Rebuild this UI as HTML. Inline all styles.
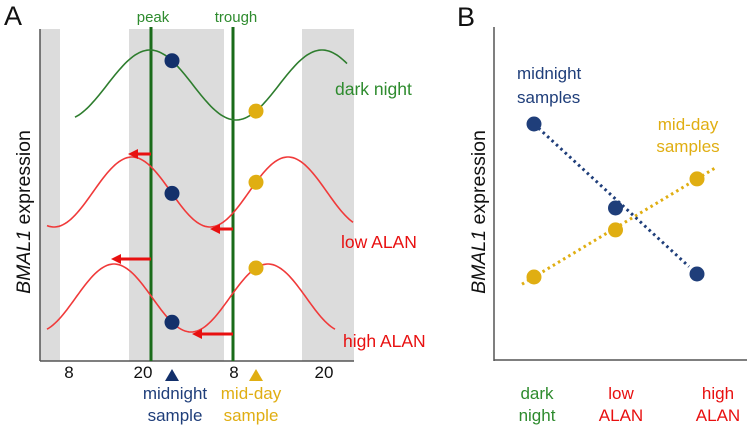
<!DOCTYPE html>
<html><head><meta charset="utf-8"><style>
body{margin:0;background:#fff;}
svg{display:block;font-family:"Liberation Sans",Arial,sans-serif;}
</style></head><body>
<svg id="fig" width="749" height="427" viewBox="0 0 749 427">
<g id="panelA">
  <text x="4" y="25" font-size="27" fill="#111">A</text>
  <rect x="40" y="29" width="20" height="332" fill="#dcdcdc"/>
  <rect x="129" y="29" width="95" height="332" fill="#dcdcdc"/>
  <rect x="302" y="29" width="52" height="332" fill="#dcdcdc"/>
  <line x1="40" y1="29" x2="40" y2="361" stroke="#555" stroke-width="1.5"/>
  <line x1="40" y1="361" x2="354" y2="361" stroke="#555" stroke-width="1.5"/>
  <line x1="151" y1="27" x2="151" y2="361" stroke="#1a6b1a" stroke-width="3"/>
  <line x1="233" y1="27" x2="233" y2="361" stroke="#1a6b1a" stroke-width="3"/>
  <text x="153" y="22" font-size="15" fill="#2e8b2e" text-anchor="middle">peak</text>
  <text x="236" y="22" font-size="15" fill="#2e8b2e" text-anchor="middle">trough</text>
  <g id="curves"></g>
  <g fill="#e81010" stroke="#e81010">
    <line x1="151" y1="154" x2="136" y2="154" stroke-width="3"/><polygon points="128,154 138,149 138,159" stroke="none"/>
    <line x1="233" y1="229" x2="218" y2="229" stroke-width="3"/><polygon points="210,229 220,224 220,234" stroke="none"/>
    <line x1="151" y1="259" x2="119" y2="259" stroke-width="3"/><polygon points="111,259 121,254 121,264" stroke="none"/>
    <line x1="233" y1="334" x2="200" y2="334" stroke-width="3"/><polygon points="192,334 202,329 202,339" stroke="none"/>
  </g>
  <g id="dotsA"></g>
  <text x="335" y="95" font-size="17.5" fill="#2e8b2e">dark night</text>
  <text x="341" y="248" font-size="17.5" fill="#e81010">low ALAN</text>
  <text x="343" y="347" font-size="17.5" fill="#e81010">high ALAN</text>
  <g font-size="17" fill="#111" text-anchor="middle">
    <text x="69" y="378">8</text><text x="143" y="378">20</text><text x="234" y="378">8</text><text x="324" y="378">20</text>
  </g>
  <polygon points="172,369 165,381 179,381" fill="#13306b"/>
  <polygon points="256,369 249,381 263,381" fill="#e0ae12"/>
  <g font-size="17" text-anchor="middle" fill="#1f3e7a">
    <text x="175" y="399">midnight</text><text x="175" y="421">sample</text></g>
  <g font-size="17" text-anchor="middle" fill="#e0ae12">
    <text x="251" y="399">mid-day</text><text x="251" y="421">sample</text></g>
  <text transform="translate(30,212) rotate(-90)" font-size="19.5" fill="#111" text-anchor="middle"><tspan font-style="italic">BMAL1</tspan> expression</text>
</g>
<g id="panelB">
  <text x="457" y="26" font-size="27" fill="#111">B</text>
  <line x1="494" y1="27" x2="494" y2="361" stroke="#555" stroke-width="1.5"/>
  <line x1="494" y1="360" x2="747" y2="360" stroke="#555" stroke-width="1.5"/>
  <text transform="translate(485,212) rotate(-90)" font-size="19.5" fill="#111" text-anchor="middle"><tspan font-style="italic">BMAL1</tspan> expression</text>
  <g font-size="17" fill="#1f3e7a"><text x="517" y="79">midnight</text><text x="517" y="103">samples</text></g>
  <g font-size="17" fill="#e0ae12" text-anchor="middle"><text x="688" y="130">mid-day</text><text x="688" y="152">samples</text></g>
  <g id="chartB"></g>
  <g id="catsB" font-size="17" text-anchor="middle"></g>
</g>
</svg>
<script>
// Panel B data
const categories = ["dark night", "low ALAN", "high ALAN"];
const catColors = ["#2e8b2e", "#e81010", "#e81010"];
const midnightValues = [0.79, 0.51, 0.29];
const middayValues = [0.28, 0.437, 0.607];

const NS = "http://www.w3.org/2000/svg";
function mk(tag, attrs, parent){const e=document.createElementNS(NS,tag);for(const k in attrs)e.setAttribute(k,attrs[k]);parent.appendChild(e);return e;}

// Panel A curves
const curves = [
  {name:"dark-night-curve", color:"#2e7d2e", peak:150, period:172, mid:85, amp:35, x0:75, x1:348},
  {name:"low-alan-curve", color:"#f03a3a", peak:132, period:156, mid:192, amp:35, x0:47, x1:353},
  {name:"high-alan-curve", color:"#f03a3a", peak:114, period:154, mid:298, amp:34, x0:47, x1:336}
];
const cg = document.getElementById("curves");
const dg = document.getElementById("dotsA");
const sampleX = [172, 256];
curves.forEach(c=>{
  const f = x => c.mid - c.amp*Math.cos(2*Math.PI*(x-c.peak)/c.period);
  let d="";
  for(let x=c.x0;x<=c.x1;x+=2){d+=(x===c.x0?"M":"L")+x+","+f(x).toFixed(1);}
  const p = mk("path",{d:d,fill:"none",stroke:c.color,"stroke-width":1.6},cg);
  
  
  sampleX.forEach((sx,i)=>{
    const dot = mk("circle",{cx:sx,cy:f(sx).toFixed(1),r:7.5,fill:i===0?"#13306b":"#e0ae12"},dg);
    
    
  });
});

// Panel B
const xB = i => 534 + i*81.5;
const yB = v => 361 - v*300;
const gB = document.getElementById("chartB");
function series(vals, color, name, ext0, ext1){
  const x0=xB(0)-ext0, x1=xB(vals.length-1)+ext1;
  const slope=(yB(vals[vals.length-1])-yB(vals[0]))/(xB(vals.length-1)-xB(0));
  const l = mk("line",{x1:x0,y1:yB(vals[0])-slope*ext0,x2:x1,y2:yB(vals[vals.length-1])+slope*ext1,stroke:color,"stroke-width":3,"stroke-dasharray":"2.5,3.5"},gB);
  
  
  vals.forEach((v,i)=>{
    const c = mk("circle",{cx:xB(i),cy:yB(v),r:7.5,fill:color},gB);
    
    
  });
}
series(middayValues,"#e0ae12","midday",12,18);
series(midnightValues,"#1f3e7a","midnight",0,-8);
const cb = document.getElementById("catsB");
const catX = [537, 621, 718];
categories.forEach((c,i)=>{
  const parts=c.split(" ");
  const t = mk("text",{x:catX[i],y:399,fill:catColors[i]},cb);
  t.textContent=parts[0];
  
  
  const t2 = mk("text",{x:catX[i],y:421,fill:catColors[i]},cb);
  t2.textContent=parts[1];
  
  
});
</script>
</body></html>
